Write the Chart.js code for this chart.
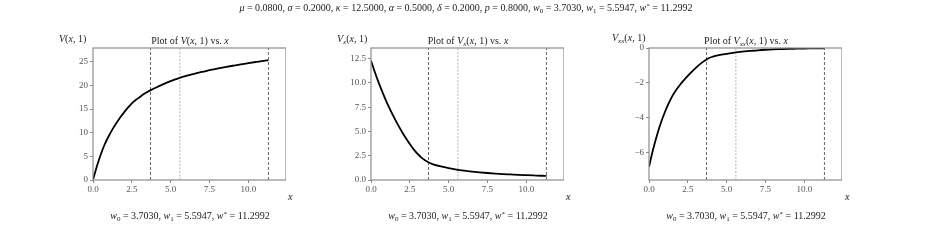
<!DOCTYPE html>
<html>
<head>
<meta charset="utf-8">
<script src="https://cdn.jsdelivr.net/npm/chart.js@4"></script>
<style>
  body { margin: 0; background: #fff; }
  #wrap { position: relative; width: 932px; height: 240px; overflow: hidden; font-family: "Liberation Serif", serif; color: #222; }
  canvas { position: absolute; top: 0; }
  .t { position: absolute; font-size: 10px; white-space: nowrap; line-height: 1; }
  .c { transform: translateX(-50%); }
  sub { font-size: 7px; vertical-align: -2px; line-height: 0; }
  sup { font-size: 7px; vertical-align: 3px; line-height: 0; }
</style>
</head>
<body>
<div id="wrap">
  <canvas id="c1" width="233" height="240" style="left:53px"></canvas>
  <canvas id="c2" width="233" height="240" style="left:331px"></canvas>
  <canvas id="c3" width="233" height="240" style="left:609px"></canvas>

  <div class="t c" style="left:466px;top:3px"><i>μ</i> = 0.0800, <i>σ</i> = 0.2000, <i>κ</i> = 12.5000, <i>α</i> = 0.5000, <i>δ</i> = 0.2000, <i>p</i> = 0.8000, <i>w</i><sub>0</sub> = 3.7030, <i>w</i><sub>1</sub> = 5.5947, <i>w</i><sup>*</sup> = 11.2992</div>

  <div class="t" style="left:59px;top:34px"><i>V</i>(<i>x</i>, 1)</div>
  <div class="t c" style="left:190px;top:36px">Plot of <i>V</i>(<i>x</i>, 1) vs. <i>x</i></div>
  <div class="t" style="left:288px;top:192px"><i>x</i></div>
  <div class="t c" style="left:190px;top:211px"><i>w</i><sub>0</sub> = 3.7030, <i>w</i><sub>1</sub> = 5.5947, <i>w</i><sup>*</sup> = 11.2992</div>

  <div class="t" style="left:337px;top:34px"><i>V<sub>x</sub></i>(<i>x</i>, 1)</div>
  <div class="t c" style="left:468px;top:36px">Plot of <i>V<sub>x</sub></i>(<i>x</i>, 1) vs. <i>x</i></div>
  <div class="t" style="left:566px;top:192px"><i>x</i></div>
  <div class="t c" style="left:468px;top:211px"><i>w</i><sub>0</sub> = 3.7030, <i>w</i><sub>1</sub> = 5.5947, <i>w</i><sup>*</sup> = 11.2992</div>

  <div class="t" style="left:612px;top:33px"><i>V<sub>xx</sub></i>(<i>x</i>, 1)</div>
  <div class="t c" style="left:746px;top:36px">Plot of <i>V<sub>xx</sub></i>(<i>x</i>, 1) vs. <i>x</i></div>
  <div class="t" style="left:845px;top:192px"><i>x</i></div>
  <div class="t c" style="left:746px;top:211px"><i>w</i><sub>0</sub> = 3.7030, <i>w</i><sub>1</sub> = 5.5947, <i>w</i><sup>*</sup> = 11.2992</div>
</div>

<script>
// x grid
const xVals = [0, 0.25, 0.5, 0.75, 1, 1.25, 1.5, 1.75, 2, 2.25, 2.5, 2.75, 3, 3.25, 3.5, 3.75, 4,
               4.5, 5, 5.5, 6, 6.5, 7, 7.5, 8, 8.5, 9, 9.5, 10, 10.5, 11, 11.2992];

const vVals   = [0, 2.9, 5.4, 7.5, 9.2, 10.7, 12.0, 13.2, 14.3, 15.3, 16.2, 16.9, 17.5, 18.1, 18.6, 19.05, 19.45,
                 20.2, 20.9, 21.5, 22.0, 22.45, 22.85, 23.2, 23.55, 23.85, 24.15, 24.45, 24.7, 24.95, 25.2, 25.3];
const vxVals  = [12.3, 11.1, 10.0, 9.0, 8.05, 7.2, 6.4, 5.65, 4.95, 4.3, 3.7, 3.15, 2.68, 2.3, 2.0, 1.78, 1.62,
                 1.4, 1.22, 1.07, 0.96, 0.87, 0.79, 0.72, 0.66, 0.61, 0.57, 0.53, 0.5, 0.47, 0.44, 0.42];
const vxxVals = [-6.8, -5.85, -5.03, -4.32, -3.72, -3.2, -2.75, -2.4, -2.1, -1.84, -1.6, -1.37, -1.15, -0.95, -0.78, -0.63, -0.53,
                 -0.41, -0.33, -0.26, -0.21, -0.17, -0.13, -0.1, -0.08, -0.065, -0.05, -0.04, -0.03, -0.025, -0.02, -0.02];

// thresholds w0, w1, w*
const wMarks = [3.7030, 5.5947, 11.2992];

const xTicks   = [0, 2.5, 5, 7.5, 10];
const xLabels  = ["0.0", "2.5", "5.0", "7.5", "10.0"];
const y1Ticks  = [0, 5, 10, 15, 20, 25];
const y1Labels = ["0", "5", "10", "15", "20", "25"];
const y2Ticks  = [0, 2.5, 5, 7.5, 10, 12.5];
const y2Labels = ["0.0", "2.5", "5.0", "7.5", "10.0", "12.5"];
const y3Ticks  = [0, -2, -4, -6];
const y3Labels = ["0", "\u22122", "\u22124", "\u22126"];

const FONT = { family: "'Liberation Serif', serif", size: 9 };
const AXIS_GREY = '#8c8c8c';

// draws the four spines around the plot area
const framePlugin = {
    id: 'frame',
    afterDatasetsDraw(chart) {
        const a = chart.chartArea, ctx = chart.ctx;
        ctx.save();
        ctx.strokeStyle = AXIS_GREY;
        ctx.lineWidth = 1.2;
        ctx.strokeRect(a.left, a.top, a.right - a.left, a.bottom - a.top);
        ctx.restore();
    }
};

function markLines(yMin, yMax) {
    const styles = [
        { color: '#555', dash: [3, 2] },
        { color: '#aaa', dash: [2, 1.5] },
        { color: '#555', dash: [3, 2] }
    ];
    return wMarks.map((w, i) => ({
        data: [{ x: w, y: yMin }, { x: w, y: yMax }],
        showLine: true,
        borderColor: styles[i].color,
        borderWidth: 0.9,
        borderDash: styles[i].dash,
        pointRadius: 0,
        order: 2
    }));
}

function criarGrafico(id, vals, yMin, yMax, yTicks, yLabels) {
    const pts = xVals.map((x, i) => ({ x: x, y: vals[i] }));
    return new Chart(document.getElementById(id), {
        type: 'scatter',
        data: {
            datasets: [{
                data: pts,
                showLine: true,
                borderColor: '#000',
                borderWidth: 1.8,
                pointRadius: 0,
                cubicInterpolationMode: 'monotone',
                order: 1
            }].concat(markLines(yMin, yMax))
        },
        options: {
            responsive: false,
            animation: false,
            devicePixelRatio: 1,
            layout: { padding: { top: 48, right: 0, bottom: 0, left: 0 } },
            plugins: { legend: { display: false }, tooltip: { enabled: false } },
            scales: {
                x: {
                    type: 'linear',
                    min: 0,
                    max: 12.43,
                    afterBuildTicks: s => { s.ticks = xTicks.map(v => ({ value: v })); },
                    afterFit: s => { s.height = 60; },
                    border: { display: false },
                    grid: { drawOnChartArea: false, color: AXIS_GREY, tickLength: 3, tickWidth: 1 },
                    ticks: {
                        maxRotation: 0,
                        autoSkip: false,
                        padding: 1,
                        color: '#555',
                        font: FONT,
                        callback: v => xLabels[xTicks.indexOf(v)]
                    }
                },
                y: {
                    type: 'linear',
                    min: yMin,
                    max: yMax,
                    afterBuildTicks: s => { s.ticks = yTicks.map(v => ({ value: v })); },
                    afterFit: s => { s.width = 40; },
                    border: { display: false },
                    grid: { drawOnChartArea: false, color: AXIS_GREY, tickLength: 3, tickWidth: 1 },
                    ticks: {
                        autoSkip: false,
                        padding: 2,
                        color: '#555',
                        font: FONT,
                        callback: v => yLabels[yTicks.indexOf(v)]
                    }
                }
            }
        },
        plugins: [framePlugin]
    });
}

criarGrafico('c1', vVals, 0, 27.9, y1Ticks, y1Labels);
criarGrafico('c2', vxVals, 0, 13.6, y2Ticks, y2Labels);
criarGrafico('c3', vxxVals, -7.55, 0, y3Ticks, y3Labels);
</script>
</body>
</html>
